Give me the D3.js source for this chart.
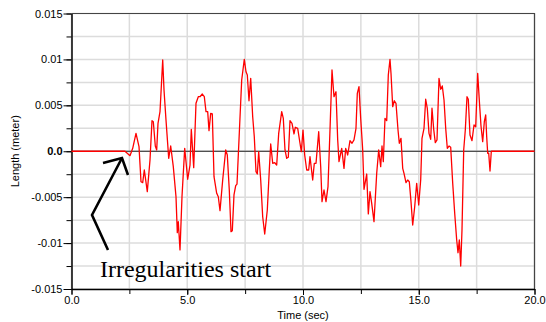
<!DOCTYPE html>
<html>
<head>
<meta charset="utf-8">
<script src="https://cdn.jsdelivr.net/npm/d3@7"></script>
<style>
  body { margin: 0; background: #fff; }
  .axis text { font-family: "Liberation Sans", Arial, sans-serif; font-size: 11px; fill: #000; }
  .axis path, .axis line { stroke: #000; }
</style>
</head>
<body>
<div id="chart"></div>
<script>
// time (sec) of each sample
const times = [0, 2.311, 2.527, 2.644, 2.786, 2.916, 3.002, 3.076, 3.145, 3.274, 3.391,
  3.477, 3.534, 3.620, 3.680, 3.737, 3.823, 3.940, 3.996, 4.082, 4.199,
  4.285, 4.397, 4.514, 4.570, 4.613, 4.687, 4.773, 4.890, 5.019, 5.119,
  5.175, 5.279, 5.378, 5.477, 5.551, 5.650, 5.737, 5.810, 5.883, 5.940,
  6.013, 6.082, 6.156, 6.272, 6.341, 6.415, 6.531, 6.661, 6.730, 6.816,
  6.890, 6.946, 7.019, 7.093, 7.149, 7.248, 7.352, 7.464, 7.538, 7.594,
  7.667, 7.741, 7.827, 7.896, 7.970, 8.026, 8.086, 8.173, 8.259, 8.346,
  8.458, 8.544, 8.605, 8.691, 8.778, 8.864, 8.950, 9.080, 9.149, 9.222,
  9.296, 9.365, 9.438, 9.525, 9.611, 9.667, 9.771, 9.870, 9.927, 10.000,
  10.073, 10.160, 10.246, 10.302, 10.419, 10.488, 10.562, 10.678, 10.765, 10.821,
  10.907, 10.994, 11.080, 11.166, 11.253, 11.339, 11.425, 11.499, 11.555, 11.672,
  11.771, 11.845, 11.931, 12.030, 12.117, 12.203, 12.289, 12.346, 12.419, 12.492,
  12.579, 12.635, 12.752, 12.821, 12.894, 12.968, 13.067, 13.184, 13.270, 13.356,
  13.413, 13.469, 13.542, 13.616, 13.685, 13.758, 13.801, 13.875, 13.944, 14.017,
  14.104, 14.160, 14.233, 14.307, 14.363, 14.449, 14.523, 14.592, 14.665, 14.739,
  14.825, 14.911, 14.998, 15.084, 15.140, 15.227, 15.300, 15.369, 15.443, 15.516,
  15.572, 15.646, 15.715, 15.788, 15.875, 15.948, 16.017, 16.091, 16.164, 16.233,
  16.307, 16.380, 16.467, 16.553, 16.639, 16.695, 16.752, 16.812, 16.868, 16.942,
  17.011, 17.084, 17.140, 17.214, 17.300, 17.387, 17.460, 17.546, 17.615, 17.689,
  17.762, 17.832, 17.892, 17.935, 17.978, 18.022, 18.078, 18.134, 20];

// length (meter x 1e-3) of each sample
const lengthsMm = [0, 0, -0.48, 0.32, 1.95, 0.50, -3.32, -3.42, -2.04, -4.40, -0.95,
  3.33, 3.22, 0.57, 0.14, 3.04, 4.31, 9.94, 6.67, 3.40, -0.77,
  0.57, -1.68, -4.95, -8.87, -7.67, -10.75, -4.95, 0.32, -3.05, -1.50,
  2.39, -1.79, 5.22, 5.94, 5.94, 6.23, 5.94, 4.31, 4.31, 2.24,
  4.13, 4.06, -2.77, -4.58, -4.95, -6.47, -3.13, 0.14, -0.41, -4.22,
  -8.76, -8.65, -4.76, -3.75, -3.57, 1.95, 7.76, 10.01, 8.66, 8.30,
  5.50, 7.94, 3.76, 1.58, -2.23, -2.48, -0.05, -3.13, -7.13, -9.01,
  -6.40, -2.04, 0.79, -1.31, -1.25, -1.50, 1.95, 4.31, 3.59, 0.14,
  -0.77, -0.66, 3.33, 3.04, 1.88, 2.61, 2.50, 0.87, -0.05, 2.31,
  -0.41, -2.04, -2.04, -0.59, -3.13, -1.31, -1.31, 2.13, -1.68, -5.49,
  -4.22, -5.49, -3.86, 2.31, 8.85, 5.94, 6.48, 1.23, -1.14, 0.32,
  -1.86, 0.32, -0.41, 1.15, 0.87, 1.23, 2.50, 6.31, 7.03, 3.59,
  0.14, -4.14, -2.48, -6.83, -4.40, -5.67, -7.67, -2.40, 0.14, -1.68,
  0.57, -1.14, 3.59, 3.33, 8.30, 10.01, 8.49, 4.85, 5.50, 5.22,
  2.31, 0.87, 1.41, -1.86, -2.40, -3.42, -3.13, -3.32, -5.49, -8.03,
  -6.04, -3.49, -5.85, -3.13, 1.41, 2.50, 5.66, 4.68, 1.95, 1.30,
  4.68, 2.39, 0.93, 1.23, 7.94, 6.75, 7.11, 5.58, 2.50, 0.32,
  0.57, 0.43, -3.49, -6.76, -9.66, -11.05, -9.66, -12.50, -8.58, 0.14,
  2.31, 5.94, 5.66, 1.77, 1.15, 2.86, 2.67, 8.49, 5.58, 2.75,
  1.04, 3.22, 3.95, 1.58, -0.22, -0.22, -2.15, 0, 0];

const xTicks = [0, 5, 10, 15, 20];
const yTicks = [0.015, 0.01, 0.005, 0, -0.005, -0.01, -0.015];
const yTickLabels = ['0.015', '0.01', '0.005', '0.0', '-0.005', '-0.01', '-0.015'];

// annotation arrow, in data units (sec, meter)
const arrowShaft = [[1.577, -0.01075], [0.886, -0.00694], [2.181, -0.000735]];
const arrowHead = [[1.361, -0.00128], [2.181, -0.000735], [2.441, -0.00258]];
const noteText = 'Irregularities start';
const notePos = [1.23, -0.01369];

const width = 546, height = 322;
const margin = {top: 13.5, right: 11.5, bottom: 33, left: 71.5};
const w = width - margin.left - margin.right;
const h = height - margin.top - margin.bottom;

const x = d3.scaleLinear().domain([0, 20]).range([0, w]);
const y = d3.scaleLinear().domain([-0.015, 0.015]).range([h, 0]);

const svg = d3.select('#chart').append('svg')
  .attr('width', width)
  .attr('height', height)
  .append('g')
  .attr('transform', 'translate(' + margin.left + ',' + margin.top + ')');

// grid
const xGrid = d3.range(0, 20.01, 2.5);
const yGrid = d3.range(-0.015, 0.0151, 0.0025);

svg.append('g').selectAll('line')
  .data(yGrid)
  .enter().append('line')
  .attr('x1', 0).attr('x2', w)
  .attr('y1', d => y(d)).attr('y2', d => y(d))
  .attr('stroke', '#dcdcdc').attr('stroke-width', 1.5);

svg.append('g').selectAll('line')
  .data(xGrid)
  .enter().append('line')
  .attr('x1', d => x(d)).attr('x2', d => x(d))
  .attr('y1', 0).attr('y2', h)
  .attr('stroke', '#dcdcdc').attr('stroke-width', 1.5);

// zero line
svg.append('line')
  .attr('x1', 0).attr('x2', w)
  .attr('y1', y(0)).attr('y2', y(0))
  .attr('stroke', '#222').attr('stroke-width', 1.2);

// frame (top / right)
svg.append('path')
  .attr('d', 'M0,0H' + w + 'V' + h)
  .attr('fill', 'none').attr('stroke', '#444').attr('stroke-width', 1.2);

// minor ticks
svg.append('g')
  .attr('class', 'axis')
  .attr('transform', 'translate(0,' + h + ')')
  .call(d3.axisBottom(x).tickValues(xGrid).tickSize(5).tickFormat(''))
  .call(g => g.select('.domain').remove());

svg.append('g')
  .attr('class', 'axis')
  .call(d3.axisLeft(y).tickValues(yGrid).tickSize(5).tickFormat(''))
  .call(g => g.select('.domain').remove());

// X axis
svg.append('g')
  .attr('class', 'axis x')
  .attr('transform', 'translate(0,' + h + ')')
  .call(d3.axisBottom(x).tickValues(xTicks).tickSize(6).tickSizeOuter(0)
    .tickPadding(1).tickFormat(d3.format('.1f')));

// Y axis
svg.append('g')
  .attr('class', 'axis y')
  .call(d3.axisLeft(y).tickValues(yTicks).tickSize(8).tickSizeOuter(0)
    .tickPadding(1).tickFormat((d, i) => yTickLabels[i]))
  .call(g => g.selectAll('.tick text')
    .filter(d => d === 0)
    .attr('font-weight', 'bold'));

svg.selectAll('.axis .domain').attr('stroke-width', 1.5);

// the signal
const line = d3.line()
  .x(d => x(d[0]))
  .y(d => y(d[1] / 1000));

svg.append('path')
  .attr('fill', 'none')
  .attr('stroke', '#ff0000')
  .attr('stroke-width', 1.3)
  .attr('stroke-linejoin', 'round')
  .attr('d', line(times.map((t, i) => [t, lengthsMm[i]])));

// annotation
const arrowLine = d3.line().x(d => x(d[0])).y(d => y(d[1]));
svg.append('path')
  .attr('d', arrowLine(arrowShaft))
  .attr('fill', 'none').attr('stroke', '#000').attr('stroke-width', 2.6);
svg.append('path')
  .attr('d', arrowLine(arrowHead))
  .attr('fill', 'none').attr('stroke', '#000').attr('stroke-width', 2.6);

svg.append('text')
  .attr('x', x(notePos[0]))
  .attr('y', y(notePos[1]))
  .style('font-family', "'Liberation Serif', 'Times New Roman', serif")
  .style('font-size', '24px')
  .text(noteText);

// axis titles
svg.append('text')
  .attr('x', w / 2)
  .attr('y', h + 30)
  .attr('text-anchor', 'middle')
  .style('font-family', "'Liberation Sans', Arial, sans-serif")
  .style('font-size', '11px')
  .text('Time (sec)');

svg.append('text')
  .attr('transform', 'translate(' + (-53) + ',' + y(0) + ') rotate(-90)')
  .attr('text-anchor', 'middle')
  .style('font-family', "'Liberation Sans Narrow', 'Liberation Sans', Arial, sans-serif")
  .style('font-size', '11px')
  .text('Length (meter)');
</script>
</body>
</html>
